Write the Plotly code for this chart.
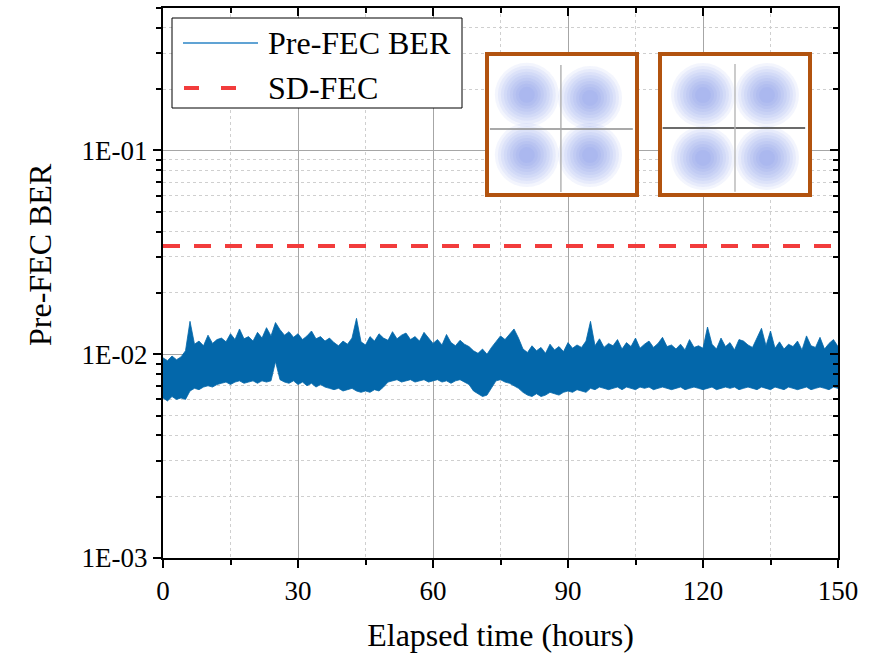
import plotly.graph_objects as go

# ---------------- data ----------------
hours = list(range(0, 151))  # elapsed time, 1-hour resolution envelope

# upper envelope of Pre-FEC BER (x1e-3)
ber_upper_e3 = [
    9.6, 9.3, 9.8, 9.4, 9.7, 10.4,
    14.5,
    11.2, 11.6, 11.0, 12.4, 11.3, 11.8,
    12.0, 11.5, 12.6, 11.8, 13.3, 11.9, 12.2, 11.6, 12.8, 12.0, 13.5, 12.3,
    14.3,
    13.2, 12.4, 12.9, 12.1, 12.6, 11.8, 12.3, 13.0, 11.9, 12.2, 11.6, 12.0,
    11.4, 11.0, 11.6, 11.2, 12.0, 15.0, 11.5, 11.1,
    12.2, 11.6, 12.6, 12.0, 11.7, 12.9, 11.9, 12.4, 12.7, 11.8, 12.2, 11.6, 12.8, 12.1,
    11.3, 11.8, 11.1, 12.5, 11.4, 11.0, 11.7, 11.2, 10.9,
    10.4, 10.1, 10.6, 10.0, 10.8,
    11.6, 12.3, 11.8, 12.6, 13.3, 12.0,
    10.6, 10.2, 11.0, 10.4, 10.8, 10.1, 11.2, 10.5, 10.9, 10.3,
    11.4, 10.7, 11.1, 10.8, 11.6, 14.5, 11.0, 11.9, 10.8, 11.3,
    11.0, 11.8, 10.6, 11.4, 10.9, 12.0, 10.7, 11.2, 11.6, 10.8, 11.3, 12.1, 10.9, 11.1,
    10.6, 11.2, 10.5, 11.8, 10.8, 11.0, 10.7,
    13.6,
    11.2, 10.6, 12.0, 10.9, 11.4, 10.5, 11.8, 11.6, 11.1, 10.8, 12.1,
    13.4,
    11.0, 13.0, 10.7, 11.5, 10.6, 11.2, 10.9, 11.6, 10.5, 12.3, 11.0, 10.8, 12.1, 10.6, 11.3, 11.8, 10.9,
]

# lower envelope of Pre-FEC BER (x1e-3)
ber_lower_e3 = [
    6.1, 5.9, 6.2, 6.0, 6.1, 6.0,
    6.6,
    6.8, 6.7, 6.9, 7.0, 6.9, 7.1,
    7.2, 7.3, 7.1, 7.3, 7.4, 7.2, 7.3, 7.4, 7.2, 7.4, 7.3, 7.4,
    9.2,
    7.5, 7.3, 7.2, 7.4, 7.1, 7.3, 7.0, 7.2, 6.9, 7.1, 6.9, 6.8,
    6.7, 6.8, 6.6, 6.7, 6.8, 6.6, 6.5, 6.6,
    6.5, 6.7, 6.6, 6.9, 7.3, 7.4, 7.5, 7.3, 7.4, 7.5, 7.3, 7.4, 7.5, 7.3,
    7.4, 7.5, 7.3, 7.4, 7.2, 7.4, 7.5, 7.3, 7.1,
    6.6, 6.4, 6.2, 6.3, 6.8,
    7.4, 7.5, 7.3, 7.2, 7.0, 6.8,
    6.5, 6.3, 6.2, 6.4, 6.2, 6.3, 6.5, 6.4, 6.3, 6.5,
    6.6, 6.5, 6.7, 6.6, 6.5, 6.8, 6.7, 6.9, 6.8, 6.7,
    6.8, 6.9, 6.7, 6.9, 6.8, 6.7, 6.9, 6.8, 6.9, 6.7, 6.8, 6.9, 6.8, 6.7,
    6.8, 6.9, 6.7, 6.8, 6.9, 6.8, 6.7,
    6.8,
    6.9, 6.7, 6.8, 6.9, 6.8, 6.9, 6.7, 6.8, 6.9, 6.8, 6.7,
    6.9,
    6.8, 6.7, 6.9, 6.8, 6.7, 6.9, 6.8, 6.7, 6.8, 6.9, 6.7, 6.8, 6.9, 6.8, 6.7, 6.9, 6.8,
]
assert len(ber_upper_e3) == len(hours) == len(ber_lower_e3)

sd_fec_threshold = 3.4e-2
x_ticks = [0, 30, 60, 90, 120, 150]
y_tick_vals = [1e-3, 1e-2, 1e-1]
y_tick_text = ["1E-03", "1E-02", "1E-01"]
y_minor_vals = [m * d for d in (1e-3, 1e-2, 1e-1) for m in range(2, 10) if m * d <= 0.5]

# constellation insets (cluster centres, normalised units)
inset1_i = [-1.1, 0.94, -1.1, 0.94]
inset1_q = [1.1, 1.0, -0.84, -0.84]
inset2_i = [-1.03, 1.03, -1.03, 1.03]
inset2_q = [1.06, 1.06, -0.97, -0.97]

# ---------------- style ----------------
FONT = "Liberation Serif, Times New Roman, serif"
BLUE = "#0367aa"
RED = "#f23c3c"
BROWN = "#b2530f"

# plot area in pixels (for layout helpers only)
L, R, T, B = 163, 838, 8, 558
def px(xp):
    return (xp - L) / (R - L)
def py(yp):
    return (B - yp) / (B - T)

fig = go.Figure()

upper = [v * 1e-3 for v in ber_upper_e3]
lower = [v * 1e-3 for v in ber_lower_e3]
fig.add_trace(go.Scatter(
    x=hours + hours[::-1], y=upper + lower[::-1],
    fill="toself", fillcolor=BLUE, mode="lines",
    line=dict(color=BLUE, width=0.8), name="Pre-FEC BER", showlegend=False,
    hoverinfo="skip"))

fig.add_trace(go.Scatter(
    x=[x_ticks[0], x_ticks[-1]], y=[sd_fec_threshold, sd_fec_threshold],
    mode="lines", line=dict(color=RED, width=4, dash="17px,14px"),
    name="SD-FEC", showlegend=False, xaxis="x2", yaxis="y2"))

# insets: white background + diffuse clusters
for xa, ya, ci, cq in (("x3", "y3", inset1_i, inset1_q), ("x4", "y4", inset2_i, inset2_q)):
    fig.add_trace(go.Scatter(x=[-3, 3, 3, -3], y=[-3, -3, 3, 3], fill="toself",
                             fillcolor="white", mode="none", showlegend=False,
                             xaxis=xa, yaxis=ya, hoverinfo="skip"))
    for size in (64, 58, 52, 46, 40, 34, 28, 22, 16):
        fig.add_trace(go.Scatter(x=ci, y=cq, mode="markers",
                                 marker=dict(size=size, color="rgba(95,120,225,0.075)",
                                             line=dict(width=0)),
                                 showlegend=False, xaxis=xa, yaxis=ya, hoverinfo="skip"))

axis_common = dict(showline=True, linecolor="black", linewidth=2, ticks="outside",
                   tickcolor="black", tickwidth=1.5, ticklen=8,
                   tickfont=dict(family=FONT, size=27, color="black"),
                   showgrid=True, gridcolor="#a6a6a6", gridwidth=1, zeroline=False)

fig.update_layout(
    width=875, height=656,
    margin=dict(l=L, r=875 - R, t=T, b=656 - B),
    paper_bgcolor="white", plot_bgcolor="white",
    font=dict(family=FONT, color="black"),
    showlegend=False,
    xaxis=dict(range=[0, 150], tickvals=x_ticks, **axis_common,
               minor=dict(dtick=15, tick0=0, ticks="outside", ticklen=5, tickcolor="black",
                          tickwidth=1.5, showgrid=True, gridcolor="#cfcfcf", griddash="dot"),
               title=dict(text="Elapsed time (hours)", font=dict(family=FONT, size=32),
                          standoff=18)),
    yaxis=dict(type="log", range=[-3, -0.30103], tickvals=y_tick_vals, ticktext=y_tick_text,
               **axis_common,
               minor=dict(tickvals=y_minor_vals, ticks="outside", ticklen=5, tickcolor="black",
                          tickwidth=1.5, showgrid=True, gridcolor="#cfcfcf", griddash="dot")),
    xaxis2=dict(overlaying="x", matches="x", side="top", anchor="y2", range=[0, 150],
                tickvals=x_ticks, ticks="inside", ticklen=8, tickwidth=1.5, tickcolor="black",
                showticklabels=False, showgrid=False, showline=True, linecolor="black",
                linewidth=2, zeroline=False,
                minor=dict(dtick=15, tick0=0, ticks="inside", ticklen=5, tickcolor="black",
                           tickwidth=1.5, showgrid=False)),
    yaxis2=dict(overlaying="y", matches="y", side="right", anchor="x2", type="log",
                range=[-3, -0.30103], tickvals=y_tick_vals, ticks="inside", ticklen=8,
                tickwidth=1.5, tickcolor="black", showticklabels=False, showgrid=False,
                showline=True, linecolor="black", linewidth=2, zeroline=False,
                minor=dict(tickvals=y_minor_vals, ticks="inside", ticklen=5,
                           tickcolor="black", tickwidth=1.5, showgrid=False)),
)

# y-axis title placed as in the reference (slightly above the axis centre)
fig.add_annotation(text="Pre-FEC BER", xref="paper", yref="paper", x=px(40), y=py(255),
                   xanchor="center", yanchor="middle", textangle=-90, showarrow=False,
                   font=dict(family=FONT, size=32, color="black"))

inset_axis = dict(showgrid=False, showticklabels=False, ticks="", showline=False,
                  zeroline=False, fixedrange=True)
fig.update_layout(
    xaxis3=dict(domain=[px(485), px(639)], range=[-2.45, 2.52], anchor="y3", **inset_axis),
    yaxis3=dict(domain=[py(197), py(52)], range=[-2.19, 2.48], anchor="x3", **inset_axis),
    xaxis4=dict(domain=[px(658), px(812)], range=[-2.48, 2.48], anchor="y4", **inset_axis),
    yaxis4=dict(domain=[py(197), py(52)], range=[-2.23, 2.45], anchor="x4", **inset_axis),
)

shapes = []
# constellation axes drawn over the clusters
shapes.append(dict(type="line", xref="x3", yref="y3", x0=-2.29, x1=2.32, y0=0, y1=0,
                   line=dict(color="#8c8c8c", width=1.3), layer="above"))
shapes.append(dict(type="line", xref="x3", yref="y3", x0=0, x1=0, y0=-2.03, y1=2.06,
                   line=dict(color="#a8a8a8", width=1.3), layer="above"))
shapes.append(dict(type="line", xref="x4", yref="y4", x0=-2.33, x1=2.26, y0=0, y1=0,
                   line=dict(color="#3a3a3a", width=1.5), layer="above"))
shapes.append(dict(type="line", xref="x4", yref="y4", x0=0, x1=0, y0=-2.06, y1=2.06,
                   line=dict(color="#b0b0b0", width=1.3), layer="above"))
for x0, x1 in ((485, 639), (658, 812)):
    shapes.append(dict(type="rect", xref="paper", yref="paper", x0=px(x0 + 2), x1=px(x1 - 2),
                       y0=py(195), y1=py(54), line=dict(color=BROWN, width=4),
                       fillcolor="rgba(0,0,0,0)", layer="above"))
# manual legend (box, sample lines)
shapes.append(dict(type="rect", xref="paper", yref="paper", x0=px(172), x1=px(462),
                   y0=py(108), y1=py(18), line=dict(color="black", width=1),
                   fillcolor="white", layer="above"))
shapes.append(dict(type="line", xref="paper", yref="paper", x0=px(183), x1=px(258),
                   y0=py(43), y1=py(43), line=dict(color="#2b84c6", width=1.3), layer="above"))
shapes.append(dict(type="line", xref="paper", yref="paper", x0=px(184), x1=px(258),
                   y0=py(88), y1=py(88), line=dict(color=RED, width=4, dash="15px,22px"),
                   layer="above"))
fig.update_layout(shapes=shapes)

for txt, yy in (("Pre-FEC BER", 43), ("SD-FEC", 88)):
    fig.add_annotation(text=txt, xref="paper", yref="paper", x=px(266), y=py(yy),
                       xanchor="left", yanchor="middle", showarrow=False,
                       font=dict(family=FONT, size=32, color="black"))

fig.write_html("out.html")
